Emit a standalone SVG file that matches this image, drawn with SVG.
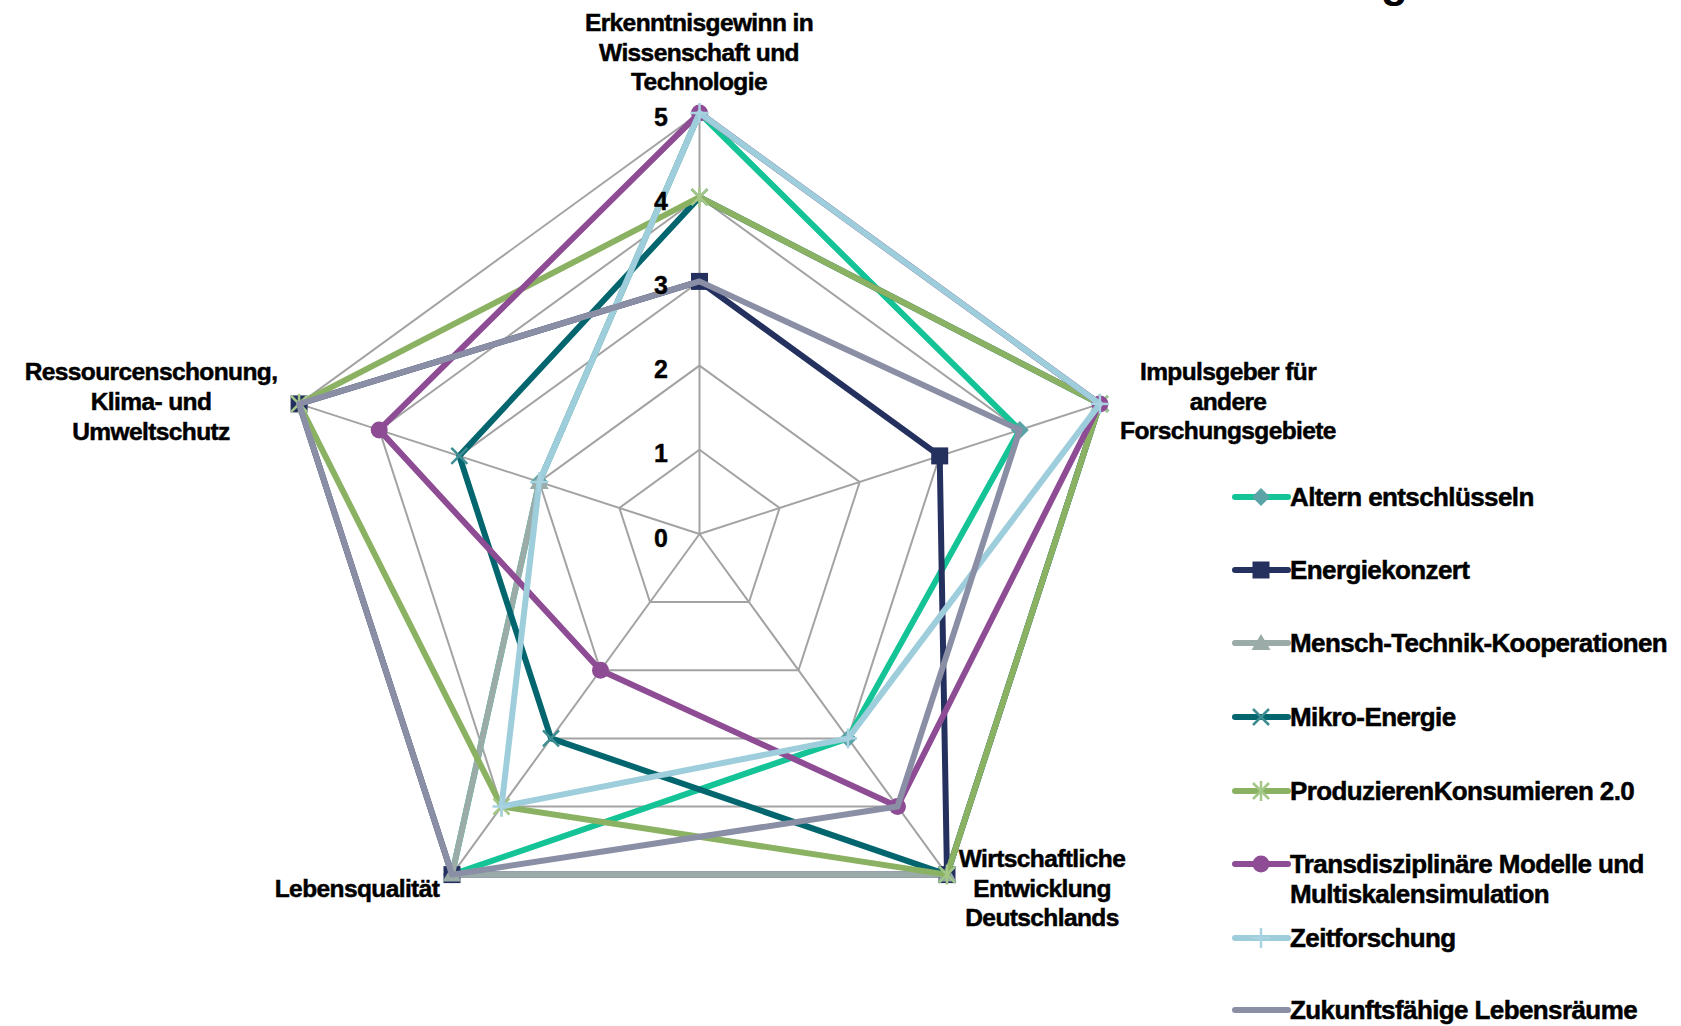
<svg xmlns="http://www.w3.org/2000/svg" width="1681" height="1026" viewBox="0 0 1681 1026">
  <style>
    .grid { fill: none; stroke: #a3a3a3; stroke-width: 2; }
    .series { fill: none; stroke-width: 6; stroke-linejoin: round; }
    .axis { font-family: "Liberation Sans", Arial, sans-serif; font-weight: bold; font-size: 24.5px; letter-spacing: -0.6px; fill: #000; stroke: #000; stroke-width: 0.5px; text-anchor: middle; }
    .tick { font-family: "Liberation Sans", Arial, sans-serif; font-weight: bold; font-size: 25px; fill: #000; stroke: #000; stroke-width: 0.4px; text-anchor: end; }
    .leg { font-family: "Liberation Sans", Arial, sans-serif; font-weight: bold; font-size: 26px; letter-spacing: -0.6px; fill: #000; stroke: #000; stroke-width: 0.5px; }
    .legline { stroke-width: 6; stroke-linecap: round; }
  </style>
  <defs>
    <polygon id="m-diamond" points="0,-9 9,0 0,9 -9,0" fill="#5aa3a6"/>
    <rect id="m-square" x="-8.5" y="-8.5" width="17" height="17" fill="#24305e"/>
    <polygon id="m-triangle" points="0,-9 9.5,7 -9.5,7" fill="#9aaba8"/>
    <g id="m-x" stroke="#3d8d93" stroke-width="2.5">
      <line x1="-8" y1="-8" x2="8" y2="8"/><line x1="-8" y1="8" x2="8" y2="-8"/>
    </g>
    <g id="m-star" stroke="#a5c787" stroke-width="2.5">
      <line x1="-8" y1="-8" x2="8" y2="8"/><line x1="-8" y1="8" x2="8" y2="-8"/><line x1="0" y1="-10" x2="0" y2="10"/>
    </g>
    <circle id="m-circle" r="8.5" fill="#8d4c94"/>
    <g id="m-plus" stroke="#a9d3e0" stroke-width="2.5">
      <line x1="-9" y1="0" x2="9" y2="0"/><line x1="0" y1="-10" x2="0" y2="10"/>
    </g>
  </defs>

  <rect width="1681" height="1026" fill="#ffffff"/>

  <!-- title descender cut at the top edge -->
  <text x="1381" y="-3" font-family="Liberation Sans, Arial, sans-serif" font-weight="bold" font-size="44" fill="#000">g</text>

  <!-- radar grid: rings 1..5 and spokes -->
  <g id="grid">
    <polygon class="grid" points="699.5,449.8 779.6,508.0 749.0,602.1 650.0,602.1 619.4,508.0"/>
    <polygon class="grid" points="699.5,365.6 859.7,482.0 798.5,670.2 600.5,670.2 539.3,482.0"/>
    <polygon class="grid" points="699.5,281.4 939.7,455.9 848.0,738.4 551.0,738.4 459.3,455.9"/>
    <polygon class="grid" points="699.5,197.2 1019.8,429.9 897.5,806.5 501.5,806.5 379.2,429.9"/>
    <polygon class="grid" points="699.5,113 1099.9,403.9 947.0,874.6 452.0,874.6 299.1,403.9"/>
    <path class="grid" d="M699.5,534 L699.5,113 M699.5,534 L1099.9,403.9 M699.5,534 L947.0,874.6 M699.5,534 L452.0,874.6 M699.5,534 L299.1,403.9"/>
  </g>

  <!-- data series -->
  <g id="connectors">
    <g id="s-altern">
      <polygon class="series" stroke="#14c496" points="699.5,113 1019.8,429.9 848.0,738.4 452.0,874.6 539.3,482.0"/>
      <use href="#m-diamond" x="699.5" y="113"/><use href="#m-diamond" x="1019.8" y="429.9"/><use href="#m-diamond" x="848.0" y="738.4"/><use href="#m-diamond" x="452.0" y="874.6"/><use href="#m-diamond" x="539.3" y="482.0"/>
    </g>
    <g id="s-energie">
      <polygon class="series" stroke="#24305e" points="699.5,281.4 939.7,455.9 947.0,874.6 452.0,874.6 299.1,403.9"/>
      <use href="#m-square" x="699.5" y="281.4"/><use href="#m-square" x="939.7" y="455.9"/><use href="#m-square" x="947.0" y="874.6"/><use href="#m-square" x="452.0" y="874.6"/><use href="#m-square" x="299.1" y="403.9"/>
    </g>
    <g id="s-mensch">
      <polygon class="series" stroke="#9aaba8" points="699.5,113 1099.9,403.9 947.0,874.6 452.0,874.6 539.3,482.0"/>
      <use href="#m-triangle" x="699.5" y="113"/><use href="#m-triangle" x="1099.9" y="403.9"/><use href="#m-triangle" x="947.0" y="874.6"/><use href="#m-triangle" x="452.0" y="874.6"/><use href="#m-triangle" x="539.3" y="482.0"/>
    </g>
    <g id="s-mikro">
      <polygon class="series" stroke="#03666e" points="699.5,197.2 1099.9,403.9 947.0,874.6 551.0,738.4 459.3,455.9"/>
      <use href="#m-x" x="699.5" y="197.2"/><use href="#m-x" x="1099.9" y="403.9"/><use href="#m-x" x="947.0" y="874.6"/><use href="#m-x" x="551.0" y="738.4"/><use href="#m-x" x="459.3" y="455.9"/>
    </g>
    <g id="s-produzieren">
      <polygon class="series" stroke="#8bb262" points="699.5,197.2 1099.9,403.9 947.0,874.6 501.5,806.5 299.1,403.9"/>
      <use href="#m-star" x="699.5" y="197.2"/><use href="#m-star" x="1099.9" y="403.9"/><use href="#m-star" x="947.0" y="874.6"/><use href="#m-star" x="501.5" y="806.5"/><use href="#m-star" x="299.1" y="403.9"/>
    </g>
    <g id="s-trans">
      <polygon class="series" stroke="#8d4c94" points="699.5,113 1099.9,403.9 897.5,806.5 600.5,670.2 379.2,429.9"/>
      <use href="#m-circle" x="699.5" y="113"/><use href="#m-circle" x="1099.9" y="403.9"/><use href="#m-circle" x="897.5" y="806.5"/><use href="#m-circle" x="600.5" y="670.2"/><use href="#m-circle" x="379.2" y="429.9"/>
    </g>
    <g id="s-zeit">
      <polygon class="series" stroke="#9ecddc" points="699.5,113 1099.9,403.9 848.0,738.4 501.5,806.5 539.3,482.0"/>
      <use href="#m-plus" x="699.5" y="113"/><use href="#m-plus" x="1099.9" y="403.9"/><use href="#m-plus" x="848.0" y="738.4"/><use href="#m-plus" x="501.5" y="806.5"/><use href="#m-plus" x="539.3" y="482.0"/>
    </g>
    <g id="s-zukunft">
      <polygon class="series" stroke="#8a8fa6" points="699.5,281.4 1019.8,429.9 897.5,806.5 452.0,874.6 299.1,403.9"/>
    </g>
  </g>

  <!-- scale values, drawn above the series -->
  <g id="ticks">
    <text class="tick" x="668" y="126">5</text>
    <text class="tick" x="668" y="210">4</text>
    <text class="tick" x="668" y="294">3</text>
    <text class="tick" x="668" y="378">2</text>
    <text class="tick" x="668" y="462">1</text>
    <text class="tick" x="668" y="547">0</text>
  </g>

  <!-- axis captions -->
  <g id="axis-top">
    <text class="axis" x="699" y="31">Erkenntnisgewinn in</text>
    <text class="axis" x="699" y="61">Wissenschaft und</text>
    <text class="axis" x="699" y="90">Technologie</text>
  </g>
  <g id="axis-right">
    <text class="axis" x="1228" y="380">Impulsgeber für</text>
    <text class="axis" x="1228" y="410">andere</text>
    <text class="axis" x="1228" y="439">Forschungsgebiete</text>
  </g>
  <g id="axis-bottom-right">
    <text class="axis" x="1042" y="867">Wirtschaftliche</text>
    <text class="axis" x="1042" y="897">Entwicklung</text>
    <text class="axis" x="1042" y="926">Deutschlands</text>
  </g>
  <g id="axis-bottom-left">
    <text class="axis" x="357" y="897">Lebensqualität</text>
  </g>
  <g id="axis-left">
    <text class="axis" x="151" y="380">Ressourcenschonung,</text>
    <text class="axis" x="151" y="410">Klima- und</text>
    <text class="axis" x="151" y="440">Umweltschutz</text>
  </g>

  <!-- legend -->
  <g id="legend">
    <g id="leg-altern">
      <line class="legline" x1="1235" y1="497" x2="1288" y2="497" stroke="#14c496"/>
      <use href="#m-diamond" x="1261" y="497"/>
      <text class="leg" x="1290" y="506">Altern entschlüsseln</text>
    </g>
    <g id="leg-energie">
      <line class="legline" x1="1235" y1="570" x2="1288" y2="570" stroke="#24305e"/>
      <use href="#m-square" x="1261" y="570"/>
      <text class="leg" x="1290" y="579">Energiekonzert</text>
    </g>
    <g id="leg-mensch">
      <line class="legline" x1="1235" y1="643" x2="1288" y2="643" stroke="#9aaba8"/>
      <use href="#m-triangle" x="1261" y="643"/>
      <text class="leg" x="1290" y="652">Mensch-Technik-Kooperationen</text>
    </g>
    <g id="leg-mikro">
      <line class="legline" x1="1235" y1="717" x2="1288" y2="717" stroke="#03666e"/>
      <use href="#m-x" x="1261" y="717"/>
      <text class="leg" x="1290" y="726">Mikro-Energie</text>
    </g>
    <g id="leg-produzieren">
      <line class="legline" x1="1235" y1="791" x2="1288" y2="791" stroke="#8bb262"/>
      <use href="#m-star" x="1261" y="791"/>
      <text class="leg" x="1290" y="800">ProduzierenKonsumieren 2.0</text>
    </g>
    <g id="leg-trans">
      <line class="legline" x1="1235" y1="864" x2="1288" y2="864" stroke="#8d4c94"/>
      <use href="#m-circle" x="1261" y="864"/>
      <text class="leg" x="1290" y="873">Transdisziplinäre Modelle und</text>
      <text class="leg" x="1290" y="903">Multiskalensimulation</text>
    </g>
    <g id="leg-zeit">
      <line class="legline" x1="1235" y1="938" x2="1288" y2="938" stroke="#9ecddc"/>
      <use href="#m-plus" x="1261" y="938"/>
      <text class="leg" x="1290" y="947">Zeitforschung</text>
    </g>
    <g id="leg-zukunft">
      <line class="legline" x1="1235" y1="1010" x2="1288" y2="1010" stroke="#8a8fa6"/>
      <text class="leg" x="1290" y="1019">Zukunftsfähige Lebensräume</text>
    </g>
  </g>
</svg>
